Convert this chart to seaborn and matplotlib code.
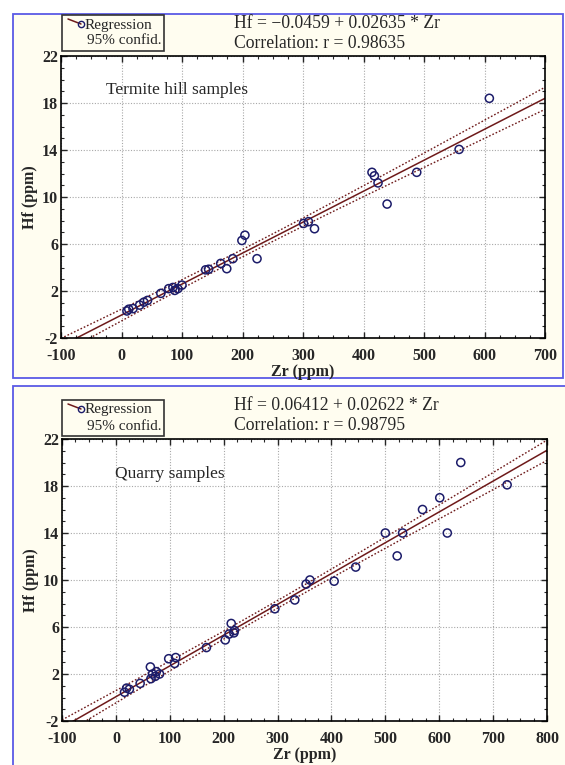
import numpy as np
import pandas as pd
import seaborn as sns
import matplotlib.pyplot as plt
from matplotlib.patches import Rectangle
from matplotlib.lines import Line2D

# Termite hill samples (Zr, Hf in ppm)
zr_termite = [9, 12, 19, 30, 37, 43, 65, 78, 85, 88, 93, 100, 139, 144, 164, 174,
              184, 199, 204, 224, 301, 309, 319, 414, 418, 424, 439, 488, 558, 608]
hf_termite = [0.3, 0.45, 0.5, 0.8, 1.05, 1.2, 1.8, 2.2, 2.3, 2.05, 2.2, 2.5, 3.8, 3.85,
              4.35, 3.9, 4.75, 6.3, 6.75, 4.75, 7.75, 7.9, 7.3, 12.1, 11.8, 11.2, 9.4,
              12.1, 14.05, 18.4]

# Quarry samples (Zr, Hf in ppm)
zr_quarry = [16, 20, 25, 45, 64, 65, 68, 73, 75, 81, 98, 109, 111, 168, 203, 210, 214,
             219, 220, 295, 332, 353, 360, 405, 445, 500, 522, 532, 569, 601, 615, 640, 726]
hf_quarry = [0.45, 0.8, 0.7, 1.2, 2.6, 1.6, 2.0, 1.8, 2.2, 2.0, 3.3, 2.9, 3.4, 4.25,
             4.9, 5.4, 6.3, 5.5, 5.7, 7.55, 8.3, 9.65, 10.0, 9.9, 11.1, 14.0, 12.05, 14.0,
             16.0, 17.0, 14.0, 20.0, 18.1]

# regression coefficients as printed on the chart
coef_termite = (-0.0459, 0.02635, 0.98635)
coef_quarry = (0.06412, 0.02622, 0.98795)

sns.set_style("white")
plt.rcParams['font.family'] = ['Liberation Serif', 'DejaVu Serif']
plt.rcParams['axes.unicode_minus'] = False

W, H = 565, 765
fig = plt.figure(figsize=(W / 100, H / 100), dpi=100)
fig.patch.set_facecolor('white')

def box(l, t, r, b):
    # image pixel box -> figure fraction [left, bottom, width, height]
    return [l / W, 1 - b / H, (r - l) / W, (b - t) / H]

cream = '#fffdf0'
border = '#5a5ae6'
fig.patches.append(Rectangle((13 / W, 1 - 378 / H), 550 / W, 364 / H, transform=fig.transFigure,
                             facecolor=cream, edgecolor=border, lw=1.3, zorder=-5))
fig.patches.append(Rectangle((13 / W, -0.01), 560 / W, 1 - 386 / H + 0.01, transform=fig.transFigure,
                             facecolor=cream, edgecolor=border, lw=1.3, zorder=-5))

line_col = '#6e1a1a'
pt_col = '#1c1c6a'
T95 = 2.035


def panel(ax, zr, hf, coef, xmax, label, label_xy, legend_box, title_y):
    b0, b1, r = coef
    df = pd.DataFrame({'Zr': zr, 'Hf': hf})
    x = df['Zr'].values
    n = len(x)
    resid = df['Hf'].values - (b0 + b1 * x)
    s = np.sqrt((resid ** 2).sum() / (n - 2))
    sxx = ((x - x.mean()) ** 2).sum()

    grid = np.linspace(-100, xmax, 200)
    fit = b0 + b1 * grid
    half = T95 * s * np.sqrt(1 / n + (grid - x.mean()) ** 2 / sxx)
    lines = pd.DataFrame({'Zr': grid, 'fit': fit, 'lo': fit - half, 'hi': fit + half})

    ax.set_facecolor('white')
    sns.lineplot(data=lines, x='Zr', y='fit', ax=ax, color=line_col, lw=1.1)
    sns.lineplot(data=lines, x='Zr', y='lo', ax=ax, color=line_col, lw=1.0, linestyle=(0, (1.2, 1.4)))
    sns.lineplot(data=lines, x='Zr', y='hi', ax=ax, color=line_col, lw=1.0, linestyle=(0, (1.2, 1.4)))
    sns.scatterplot(data=df, x='Zr', y='Hf', ax=ax, marker='o', s=34, facecolor='none',
                    edgecolor=pt_col, linewidth=1.1, zorder=5)

    ax.set_xlim(-100, xmax)
    ax.set_ylim(-2, 22)
    ax.set_xticks(np.arange(-100, xmax + 1, 100))
    ax.set_yticks([-2, 2, 6, 10, 14, 18, 22])
    ax.set_xticks(np.arange(-100, xmax + 1, 25), minor=True)
    ax.set_yticks(np.arange(-2, 23, 1), minor=True)
    ax.grid(True, which='major', color='#a8a8a8', lw=0.8, linestyle=(0, (1, 1.5)))
    ax.tick_params(which='both', direction='in', top=True, right=True, bottom=True, left=True)
    ax.tick_params(which='major', length=4, width=1, labelsize=11.5)
    ax.tick_params(axis='x', which='major', pad=7)
    ax.tick_params(axis='y', which='major', pad=2)
    ax.tick_params(which='minor', length=2.5, width=0.8)
    for t in ax.get_xticklabels() + ax.get_yticklabels():
        t.set_fontweight('bold')
    for sp in ax.spines.values():
        sp.set_color('black')
        sp.set_linewidth(1.2)
    ax.set_xlabel('Zr (ppm)', fontsize=11.5, fontweight='bold', labelpad=0)
    ax.set_ylabel('Hf (ppm)', fontsize=11.5, fontweight='bold', labelpad=3)

    ax.text(label_xy[0], label_xy[1], label, fontsize=12.5, ha='left', va='center')

    sign = '\u2212' if b0 < 0 else ''
    fig.text(234 / W, 1 - title_y / H, f'Hf = {sign}{abs(b0):g} + {b1:g} * Zr',
             fontsize=12.7, ha='left', va='center')
    fig.text(234 / W, 1 - (title_y + 20) / H, f'Correlation: r = {r:g}',
             fontsize=12.7, ha='left', va='center')

    # legend box
    l, t, rr, bb = legend_box
    fig.patches.append(Rectangle((l / W, 1 - bb / H), (rr - l) / W, (bb - t) / H,
                                 transform=fig.transFigure, facecolor=cream,
                                 edgecolor='#333333', lw=1.2, zorder=3))
    fig.lines.append(Line2D([(l + 6) / W, (l + 19) / W], [1 - (t + 4) / H, 1 - (t + 9) / H],
                            transform=fig.transFigure, color=line_col, lw=1.1, zorder=4))
    fig.lines.append(Line2D([(l + 19) / W], [1 - (t + 9) / H], transform=fig.transFigure,
                            marker='o', ms=4.5, mfc='none', mec=pt_col, mew=1, zorder=4))
    fig.text((l + 23) / W, 1 - (t + 10) / H, 'Regression', fontsize=11, ha='left',
             va='center', zorder=5)
    fig.text((l + 25) / W, 1 - (t + 26) / H, '95% confid.', fontsize=11, ha='left',
             va='center', zorder=5)


ax1 = fig.add_axes(box(61, 56, 545, 338))
ax2 = fig.add_axes(box(62, 439, 547, 721))

panel(ax1, zr_termite, hf_termite, coef_termite, 700, 'Termite hill samples', (-25, 19.1),
      (62, 15, 164, 51), 23)
panel(ax2, zr_quarry, hf_quarry, coef_quarry, 800, 'Quarry samples', (-1, 19.0),
      (62, 400, 164, 436), 406)

fig.savefig('out.png', dpi=100)
